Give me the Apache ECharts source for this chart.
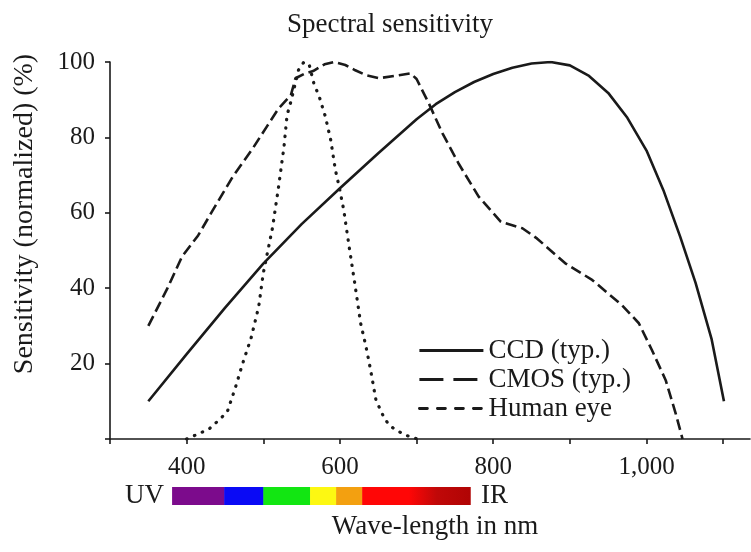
<!DOCTYPE html>
<html>
<head>
<meta charset="utf-8">
<script src="https://cdn.jsdelivr.net/npm/echarts@6/dist/echarts.min.js"></script>
<style>
  html, body { margin: 0; padding: 0; background: #fff; }
  #main { width: 751px; height: 552px; }
</style>
</head>
<body>
<div id="main"></div>
<script>
// wavelength (nm), sensitivity (%)
var ccdData = [
    [350, 10], [400, 22.5], [450, 34.8], [500, 46.5], [550, 57], [600, 66.5],
    [650, 75.8], [700, 84.8], [725, 88.8], [750, 92], [775, 94.7], [800, 96.8],
    [825, 98.5], [850, 99.6], [875, 100], [900, 99.1], [925, 96.3], [950, 91.8],
    [975, 85.2], [1000, 76.5], [1022, 66], [1044, 53.6], [1064, 41.4],
    [1085, 26.4], [1101, 10]
];
var cmosData = [
    [350, 30], [375, 40], [394, 48.4], [415, 54], [433, 60.3], [460, 69.5],
    [486, 77], [505, 83], [520, 87.7], [536, 91.2], [542, 95.7], [555, 97],
    [565, 97.6], [580, 99.4], [592, 100], [607, 99.2], [620, 97.8], [634, 96.5],
    [651, 95.7], [677, 96.5], [692, 97], [700, 95.5], [716, 89], [734, 81],
    [755, 73], [781, 64.3], [810, 57.6], [838, 55.9], [857, 53.2], [894, 46.6],
    [929, 42.2], [968, 35.5], [990, 30.7], [1007, 23.6], [1025, 15.6],
    [1038, 6.8], [1047, 0]
];
var eyeData = [
    [400, 0], [429, 2.6], [442, 5], [453, 7.2], [464, 13.9], [473, 20],
    [484, 26.7], [494, 35.1], [500, 44], [507, 51], [512, 56], [520, 67],
    [527, 77.5], [531, 85.9], [536, 89.5], [546, 97.9], [553, 100], [560, 99.2],
    [566, 94.3], [573, 90.8], [581, 85.5], [588, 79.3], [594, 71.4], [599, 66.9],
    [605, 60.7], [612, 51], [620, 40.4], [627, 30.7], [634, 24.5], [640, 18.3],
    [647, 10.3], [657, 5.9], [664, 3.7], [673, 2.4], [686, 1], [701, 0]
];
var seriesNames = ['CCD (typ.)', 'CMOS (typ.)', 'Human eye'];

var xTicks = [300, 400, 500, 600, 700, 800, 900, 1000, 1100];
var xLabels = [400, 600, 800, 1000];

// visible spectrum bar below the axis: [from nm, to nm]
var bandRanges = [[381, 449], [449, 500], [500, 561], [561, 595], [595, 629], [629, 690], [690, 770]];
var bandColors = ['#7c0b8c', '#0a0af5', '#12e612', '#fdf812', '#f3a010', '#ff0606', '#c00808'];

var FONT = '"Liberation Serif", "DejaVu Serif", serif';
var INK = '#1a1a1a';

var myChart = echarts.init(document.getElementById('main'));

var option = {
    animation: false,
    backgroundColor: '#fff',
    textStyle: { fontFamily: FONT, color: INK },
    grid: [
        { left: 110, right: 1, top: 62, bottom: 113 },
        { left: 110, right: 1, top: 487, height: 18 }
    ],
    legend: {
        orient: 'vertical',
        left: 413,
        top: 332,
        itemWidth: 64,
        itemHeight: 14,
        itemGap: 2,
        itemStyle: { opacity: 0 },
        textStyle: { fontFamily: FONT, fontSize: 27, color: INK, lineHeight: 27 },
        data: [
            { name: seriesNames[0], lineStyle: { width: 2.8 } },
            { name: seriesNames[1], lineStyle: { type: [24, 10], width: 2.8 } },
            { name: seriesNames[2], lineStyle: { type: [8, 10], width: 2.8 } }
        ]
    },
    xAxis: [{
        type: 'value',
        gridIndex: 0,
        min: 300,
        max: 1135,
        interval: 100,
        splitLine: { show: false },
        axisLine: { lineStyle: { color: INK, width: 1.6 } },
        axisTick: { show: true, length: 5, customValues: xTicks, lineStyle: { color: INK, width: 1.6 } },
        axisLabel: {
            customValues: xLabels,
            margin: 16,
            fontFamily: FONT,
            fontSize: 25,
            color: INK,
            formatter: function (v) {
                return v >= 1000 ? Math.floor(v / 1000) + ',' + String(v % 1000).padStart(3, '0') : String(v);
            }
        }
    }, {
        type: 'value',
        gridIndex: 1,
        min: 300,
        max: 1135,
        show: false
    }],
    yAxis: [{
        type: 'value',
        gridIndex: 0,
        min: 0,
        max: 100,
        interval: 20,
        splitLine: { show: false },
        axisLine: { show: true, lineStyle: { color: INK, width: 1.6 } },
        axisTick: { show: true, length: 5, lineStyle: { color: INK, width: 1.6 } },
        axisLabel: {
            margin: 15,
            fontFamily: FONT,
            fontSize: 25,
            color: INK,
            formatter: function (v) { return v === 0 ? '' : String(v); }
        }
    }, {
        type: 'value',
        gridIndex: 1,
        min: 0,
        max: 1,
        show: false
    }],
    graphic: [
        {
            type: 'text', x: 390, y: 25,
            style: { text: 'Spectral sensitivity', font: '27px ' + FONT, fill: INK, align: 'center', verticalAlign: 'middle' }
        },
        {
            type: 'text', x: 25, y: 214, rotation: Math.PI / 2,
            style: { text: 'Sensitivity (normalized) (%)', font: '28px ' + FONT, fill: INK, align: 'center', verticalAlign: 'middle' }
        },
        {
            type: 'text', x: 164, y: 496,
            style: { text: 'UV', font: '27px ' + FONT, fill: INK, align: 'right', verticalAlign: 'middle' }
        },
        {
            type: 'text', x: 481, y: 496,
            style: { text: 'IR', font: '27px ' + FONT, fill: INK, align: 'left', verticalAlign: 'middle' }
        },
        {
            type: 'text', x: 435, y: 527,
            style: { text: 'Wave-length in nm', font: '27px ' + FONT, fill: INK, align: 'center', verticalAlign: 'middle' }
        }
    ],
    series: [
        {
            name: seriesNames[0],
            type: 'line',
            data: ccdData,
            symbol: 'none',
            smooth: false,
            lineStyle: { color: INK, width: 2.6, type: 'solid' },
            itemStyle: { color: INK }
        },
        {
            name: seriesNames[1],
            type: 'line',
            data: cmosData,
            symbol: 'none',
            smooth: false,
            lineStyle: { color: INK, width: 2.6, type: [11, 5] },
            itemStyle: { color: INK }
        },
        {
            name: seriesNames[2],
            type: 'line',
            data: eyeData,
            symbol: 'none',
            smooth: false,
            lineStyle: { color: INK, width: 3.2, type: [0.5, 8], cap: 'round' },
            itemStyle: { color: INK }
        },
        {
            type: 'custom',
            xAxisIndex: 1,
            yAxisIndex: 1,
            silent: true,
            data: bandRanges.map(function (r, i) { return [r[0], r[1], i]; }),
            renderItem: function (params, api) {
                var p0 = api.coord([api.value(0), 1]);
                var p1 = api.coord([api.value(1), 0]);
                var idx = api.value(2);
                var fill = bandColors[idx];
                if (idx === bandRanges.length - 1) {
                    fill = new echarts.graphic.LinearGradient(0, 0, 1, 0, [
                        { offset: 0, color: bandColors[idx - 1] },
                        { offset: 0.45, color: bandColors[idx] },
                        { offset: 1, color: '#b00404' }
                    ]);
                }
                return {
                    type: 'rect',
                    shape: { x: p0[0], y: p0[1], width: p1[0] - p0[0] + 0.5, height: p1[1] - p0[1] },
                    style: { fill: fill }
                };
            }
        }
    ]
};

myChart.setOption(option);
</script>
</body>
</html>
